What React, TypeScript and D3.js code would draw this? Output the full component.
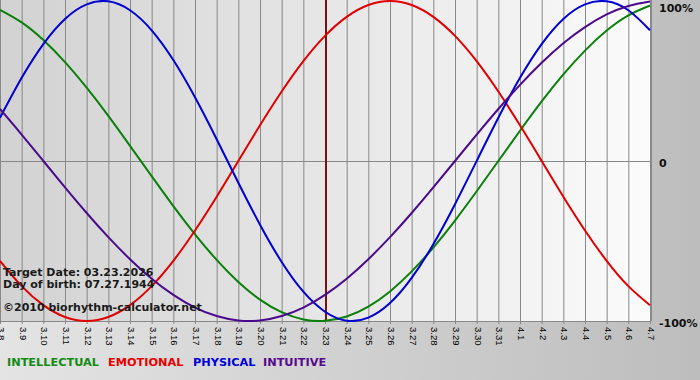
import React from "react";
import * as d3 from "d3";

const dates = ["3.8","3.9","3.10","3.11","3.12","3.13","3.14","3.15","3.16","3.17","3.18","3.19","3.20","3.21","3.22","3.23","3.24","3.25","3.26","3.27","3.28","3.29","3.30","3.31","4.1","4.2","4.3","4.4","4.5","4.6","4.7"];

const intellectual = [0.945,0.866,0.756,0.618,0.458,0.282,0.095,-0.095,-0.282,-0.458,-0.618,-0.756,-0.866,-0.945,-0.99,-0.999,-0.972,-0.91,-0.815,-0.69,-0.541,-0.372,-0.189,0,0.189,0.372,0.541,0.69,0.815,0.91,0.972];
const emotional = [-0.624,-0.782,-0.901,-0.975,-1,-0.975,-0.901,-0.782,-0.624,-0.434,-0.223,0,0.223,0.434,0.624,0.782,0.901,0.975,1,0.975,0.901,0.782,0.624,0.434,0.223,0,-0.223,-0.434,-0.624,-0.782,-0.901];
const physical = [0.27,0.52,0.731,0.888,0.979,0.998,0.942,0.817,0.631,0.398,0.136,-0.136,-0.398,-0.631,-0.817,-0.942,-0.998,-0.979,-0.888,-0.731,-0.52,-0.27,0,0.27,0.52,0.731,0.888,0.979,0.998,0.942,0.817];
const intuitive = [0.325,0.165,0,-0.165,-0.325,-0.476,-0.614,-0.736,-0.837,-0.916,-0.969,-0.997,-0.997,-0.969,-0.916,-0.837,-0.736,-0.614,-0.476,-0.325,-0.165,0,0.165,0.325,0.476,0.614,0.736,0.837,0.916,0.969,0.997];

const seriesNames = ["INTELLECTUAL","EMOTIONAL","PHYSICAL","INTUITIVE"];
const seriesColors = ["#0a800a","#e00000","#0000d0","#4b0a8c"];
const legendColors = ["#138a13","#e60000","#0000d8","#56088f"];
const legendX = [7, 108, 193, 263];
const yLabels = ["100%","0","-100%"];
const yLabelValues = [1, 0, -1];
const targetDate = "3.23";
const infoLines = ["Target Date: 03.23.2026","Day of birth: 07.27.1944","©2010 biorhythm-calculator.net"];
const infoY = [276, 288, 311];

const W = 700, H = 380;
const plotLeft = 0, plotRight = 650, plotTop = 1, plotBottom = 321;

export default function App() {
  const x = d3.scalePoint<string>().domain(dates).range([plotLeft, plotRight]);
  const y = d3.scaleLinear().domain([-1, 1]).range([plotBottom, plotTop]);
  const series = [intellectual, emotional, physical, intuitive];
  const line = d3.line<number>()
    .x((_, i) => x(dates[i]) as number)
    .y((v) => y(v))
    .curve(d3.curveNatural);
  const font = "'DejaVu Sans', Verdana, sans-serif";
  return (
    <svg width={W} height={H} style={{ position: "absolute", left: 0, top: 0 }}>
      <defs>
        <linearGradient id="outer" x1="0" x2="1" y1="0" y2="0">
          <stop offset="0" stopColor="#e4e4e4" />
          <stop offset="1" stopColor="#bdbdbd" />
        </linearGradient>
        <linearGradient id="plotbg" x1="0" x2="1" y1="0" y2="0">
          <stop offset="0" stopColor="#d2d2d2" />
          <stop offset="1" stopColor="#fbfbfb" />
        </linearGradient>
        <clipPath id="clip">
          <rect x={plotLeft} y={0} width={plotRight - plotLeft + 1} height={plotBottom + 1} />
        </clipPath>
      </defs>
      <rect x={0} y={0} width={W} height={H} fill="url(#outer)" />
      <rect x={plotLeft} y={0} width={plotRight - plotLeft + 1} height={plotBottom} fill="url(#plotbg)" />
      {dates.map((d) => (
        <line key={d} x1={(x(d) as number) + 0.5} x2={(x(d) as number) + 0.5} y1={0} y2={plotBottom + 3} stroke="#888" strokeWidth={1} />
      ))}
      <line x1={plotLeft} x2={plotRight + 1} y1={y(0) + 0.5} y2={y(0) + 0.5} stroke="#888" strokeWidth={1} />
      <line x1={plotLeft} x2={plotRight + 1} y1={plotBottom + 0.5} y2={plotBottom + 0.5} stroke="#888" strokeWidth={1} />
      <line x1={plotRight + 1.5} x2={plotRight + 1.5} y1={0} y2={plotBottom} stroke="#8a8a8a" strokeWidth={1} />
      <line x1={(x(targetDate) as number) + 1} x2={(x(targetDate) as number) + 1} y1={0} y2={plotBottom} stroke="#7a1010" strokeWidth={2} />
      <g clipPath="url(#clip)">
        {series.map((s, i) => (
          <path key={seriesNames[i]} d={line(s) || ""} fill="none" stroke={seriesColors[i]} strokeWidth={2} />
        ))}
      </g>
      {infoLines.map((t, i) => (
        <text key={t} x={3} y={infoY[i]} fontFamily={font} fontSize={11} fontWeight="bold" fill="#1a1a1a">{t}</text>
      ))}
      {dates.map((d) => (
        <text key={"l" + d} transform={`translate(${(x(d) as number) + 0.5},${plotBottom + 6}) rotate(90)`}
          fontFamily="'Liberation Sans', Arial, sans-serif" fontSize={9.5} dominantBaseline="middle" fill="#000">{d}</text>
      ))}
      {yLabels.map((t, i) => (
        <text key={t} x={659} y={Math.max(y(yLabelValues[i]) + 5.5, 11.5)} fontFamily={font} fontSize={11} fontWeight="bold" fill="#111">{t}</text>
      ))}
      {seriesNames.map((n, i) => (
        <text key={n} x={legendX[i]} y={366} fontFamily={font} fontSize={11.3} fontWeight="bold" fill={legendColors[i]}>{n}</text>
      ))}
    </svg>
  );
}
